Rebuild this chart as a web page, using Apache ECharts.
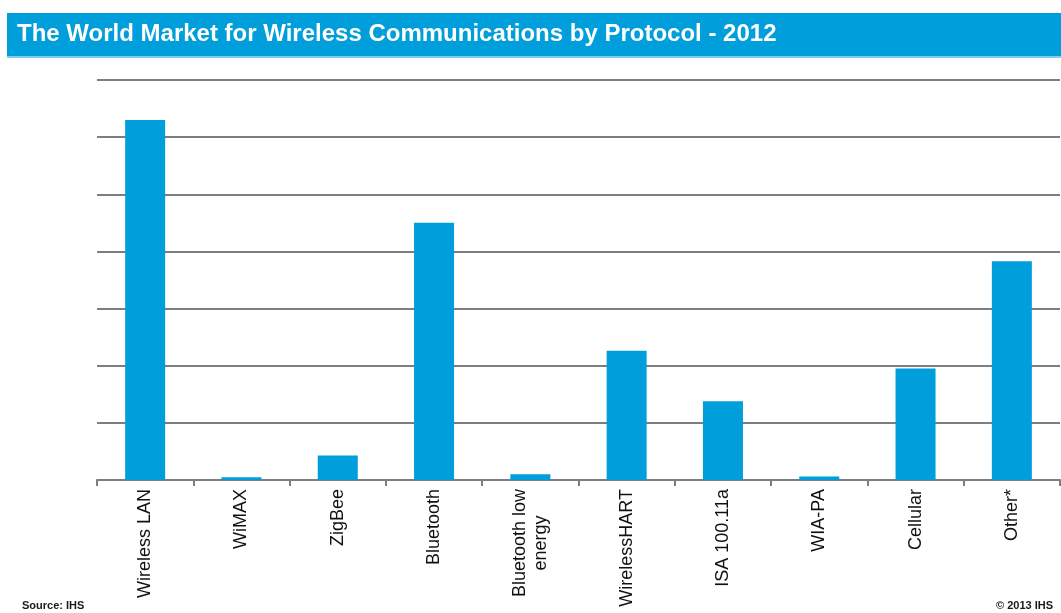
<!DOCTYPE html>
<html>
<head>
<meta charset="utf-8">
<style>
  html, body { margin: 0; padding: 0; background: #ffffff; }
  #chart { width: 1061px; height: 613px; }
</style>
<script src="https://cdn.jsdelivr.net/npm/echarts@6/dist/echarts.min.js"></script>
</head>
<body>
<div id="chart"></div>
<script>
// Protocols along the horizontal axis
const protocols = [
  'Wireless LAN', 'WiMAX', 'ZigBee', 'Bluetooth', 'Bluetooth low\nenergy',
  'WirelessHART', 'ISA 100.11a', 'WIA-PA', 'Cellular', 'Other*'
];
// Relative market size per protocol (one unit per gridline band)
const marketSize = [6.30, 0.05, 0.43, 4.50, 0.10, 2.26, 1.38, 0.06, 1.95, 3.83];
// Value axis extent (unlabelled bands)
const axisMax = 7;
const axisStep = 1;

const titleText = 'The World Market for Wireless Communications by Protocol - 2012';
const sourceText = 'Source: IHS';
const copyrightText = '\u00A9 2013 IHS';

const chart = echarts.init(document.getElementById('chart'), null, { renderer: 'canvas' });

chart.setOption({
  backgroundColor: '#ffffff',
  animation: false,
  grid: { left: 97, right: 1, top: 80, bottom: 133, containLabel: false },
  xAxis: {
    type: 'category',
    data: protocols,
    axisLine: { show: true, lineStyle: { color: '#7a7f84', width: 2 } },
    axisTick: { show: true, alignWithLabel: false, length: 6, lineStyle: { color: '#7a7f84', width: 2 } },
    axisLabel: {
      interval: 0,
      rotate: 90,
      margin: 9,
      fontFamily: 'Liberation Sans, Arial, sans-serif',
      fontSize: 18,
      color: '#111111',
      lineHeight: 21,
      formatter: function (v) {
        return v.split('\n').map(function (s) { return '{c|' + s + '}'; }).join('\n');
      },
      rich: {
        c: { align: 'center', fontSize: 18, lineHeight: 21, color: '#111111',
             fontFamily: 'Liberation Sans, Arial, sans-serif' }
      }
    }
  },
  yAxis: {
    type: 'value',
    min: 0,
    max: axisMax,
    interval: axisStep,
    axisLine: { show: false },
    axisTick: { show: false },
    axisLabel: { show: false },
    splitLine: { show: true, lineStyle: { color: '#7a7f84', width: 2 } }
  },
  series: [{
    type: 'bar',
    data: marketSize,
    barWidth: 40,
    itemStyle: { color: '#009edb' },
    z: 3
  }],
  graphic: [
    {
      type: 'rect',
      left: 7, top: 13,
      shape: { width: 1054, height: 44 },
      style: { fill: '#009edb' },
      z: 10
    },
    {
      type: 'rect',
      left: 7, top: 56,
      shape: { width: 1054, height: 2 },
      style: { fill: '#7ccdf0' },
      z: 10
    },
    {
      type: 'text',
      left: 17, top: 22,
      style: {
        text: titleText,
        fill: '#ffffff',
        font: 'bold 24px "Liberation Sans", Arial, sans-serif'
      },
      z: 11
    },
    {
      type: 'text',
      left: 22, top: 600,
      style: {
        text: sourceText,
        fill: '#1a1a1a',
        font: 'bold 11px "Liberation Sans", Arial, sans-serif'
      },
      z: 11
    },
    {
      type: 'text',
      left: 996, top: 600,
      style: {
        text: copyrightText,
        fill: '#1a1a1a',
        font: 'bold 11px "Liberation Sans", Arial, sans-serif'
      },
      z: 11
    }
  ]
});
</script>
</body>
</html>
